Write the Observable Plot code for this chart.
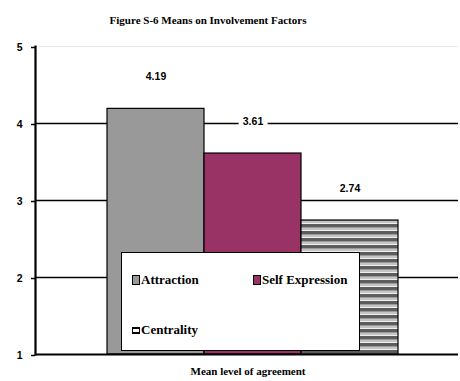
<!DOCTYPE html>
<html><head><meta charset="utf-8">
<script src="https://cdn.jsdelivr.net/npm/d3@7"></script>
<script src="https://cdn.jsdelivr.net/npm/@observablehq/plot@0.6"></script>
<style>
body{margin:0;background:#fff;}
#wrap{position:relative;width:460px;height:381px;}
#wrap svg{position:absolute;left:0;top:0;}
.legend{position:absolute;left:121px;top:252px;width:237px;height:97px;background:#fff;border:1.5px solid #000;
  font-family:"Liberation Serif","Times New Roman",serif;font-weight:bold;font-size:13px;color:#000;}
.item{position:absolute;white-space:nowrap;line-height:14px;}
.sw{display:inline-block;width:6px;height:8px;border:1.5px solid #000;vertical-align:-1px;margin-right:1px;}
</style></head>
<body><div id="wrap"></div>
<script>
const categories = ["Attraction", "Self Expression", "Centrality"];
const values = [4.19, 3.61, 2.74];
const labels = ["4.19", "3.61", "2.74"];
const yTicks = [1, 2, 3, 4, 5];
const title = "Figure S-6 Means on Involvement Factors";
const xLabel = "Mean level of agreement";
const colors = ["#999999", "#993366", "url(#stripes)"];

const data = categories.map((c, i) => ({cat: c, value: values[i], label: labels[i]}));

const plot = Plot.plot({
  width: 460, height: 381,
  marginTop: 46, marginBottom: 27, marginLeft: 35, marginRight: 2,
  style: {fontFamily: "'Liberation Sans', Arial, sans-serif", background: "#fff", overflow: "visible"},
  x: {type: "band", domain: categories, range: [106, 398], padding: 0, axis: null},
  y: {domain: [1, 5], axis: null},
  color: {domain: categories, range: colors},
  marks: [
    Plot.ruleY([5], {stroke: "#e8e8e8", strokeWidth: 1}),
    Plot.ruleY([2, 3, 4], {stroke: "#000", strokeWidth: 1.3}),
    Plot.barY(data, {x: "cat", y1: 1, y2: "value", fill: "cat", stroke: "#000", strokeWidth: 1.2, inset: 0}),
    Plot.ruleY([1], {stroke: "#000", strokeWidth: 2.2}),
    Plot.frame({anchor: "left", stroke: "#000", strokeWidth: 2.2}),
    Plot.axisY(yTicks, {tickSize: 4, tickPadding: 9, stroke: "#000", strokeWidth: 1.5, label: null,
      tickFormat: d3.format("d"), fontWeight: "bold", fontSize: 10.5, fill: "#000", dy: 1}),
    Plot.text(data, {x: "cat", y: "value", text: "label", dy: -32, fontWeight: "bold", fontSize: 10.5,
      fill: "#000", stroke: "#fff", strokeWidth: 9}),
    Plot.text([title], {frameAnchor: "top", dy: -30, dx: -39, text: d => d,
      fontFamily: "'Liberation Serif', 'Times New Roman', serif", fontWeight: "bold", fontSize: 11, fill: "#000"}),
    Plot.text([xLabel], {frameAnchor: "bottom", dy: 20, dx: 1, text: d => d,
      fontFamily: "'Liberation Serif', 'Times New Roman', serif", fontWeight: "bold", fontSize: 11, fill: "#000"})
  ]
});

const svg = d3.select(plot);
const defs = svg.insert("defs", ":first-child");
const pat = defs.append("pattern").attr("id", "stripes").attr("patternUnits", "userSpaceOnUse")
  .attr("width", 8).attr("height", 7);
pat.append("rect").attr("x", 0).attr("y", 0).attr("width", 8).attr("height", 3).attr("fill", "#5c5c5c");
pat.append("rect").attr("x", 0).attr("y", 3).attr("width", 8).attr("height", 1).attr("fill", "#9a9a9a");
pat.append("rect").attr("x", 0).attr("y", 4).attr("width", 8).attr("height", 2).attr("fill", "#c4c4c4");
pat.append("rect").attr("x", 0).attr("y", 6).attr("width", 8).attr("height", 1).attr("fill", "#f0f0f0");

const wrap = document.getElementById("wrap");
wrap.appendChild(plot);

const legend = document.createElement("div");
legend.className = "legend";
const items = [
  {name: categories[0], left: 10, top: 20, sw: `background:${colors[0]}`},
  {name: categories[1], left: 131, top: 20, sw: `background:${colors[1]}`},
  {name: categories[2], left: 10, top: 70, sw: `background:#fff;height:3px;border-width:2.5px 1.5px;vertical-align:0px`}
];
for (const it of items) {
  const d = document.createElement("div");
  d.className = "item";
  d.style.left = it.left + "px"; d.style.top = it.top + "px";
  d.innerHTML = `<span class="sw" style="${it.sw}"></span>${it.name}`;
  legend.appendChild(d);
}
wrap.appendChild(legend);
</script></body></html>
